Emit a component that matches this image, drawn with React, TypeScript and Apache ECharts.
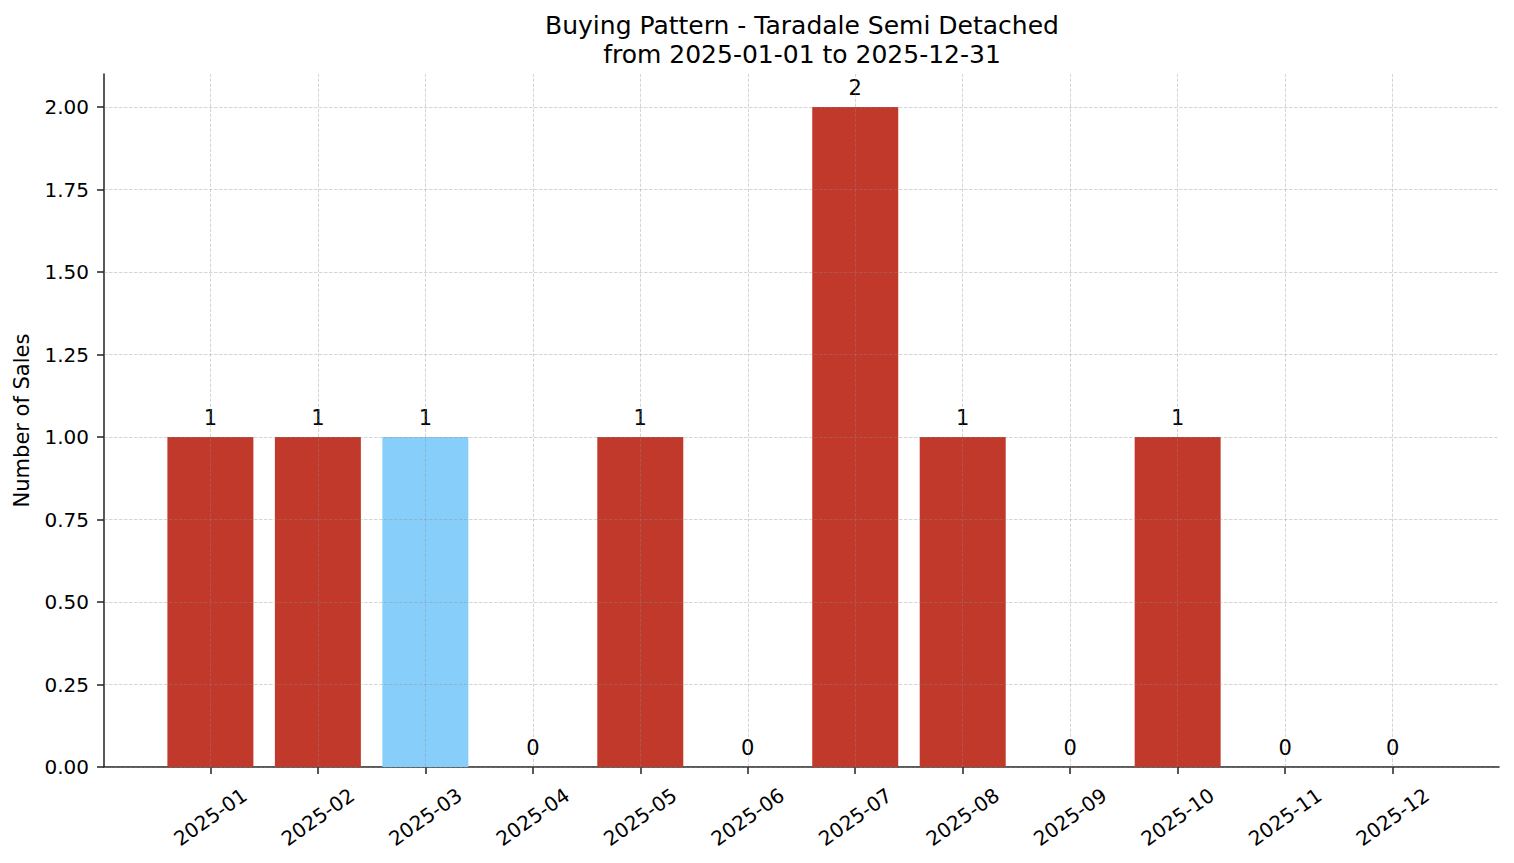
import React, { useEffect, useRef } from "react";
import * as echarts from "echarts";

const months = [
  "2025-01", "2025-02", "2025-03", "2025-04", "2025-05", "2025-06",
  "2025-07", "2025-08", "2025-09", "2025-10", "2025-11", "2025-12",
];
const sales = [1, 1, 1, 0, 1, 0, 2, 1, 0, 1, 0, 0];
const highlightMonth = "2025-03";
const yTicks = [0, 0.25, 0.5, 0.75, 1.0, 1.25, 1.5, 1.75, 2.0];

const FONT = "DejaVu Sans";
const RED = "#c0392b";
const BLUE = "#87cefa";

function App() {
  const chartRef = useRef<HTMLDivElement>(null);

  useEffect(() => {
    if (!chartRef.current) return;
    const chart = echarts.init(chartRef.current, undefined, { renderer: "svg" });
    const xIdx = months.map((_, i) => i);
    // matplotlib-ish dashed grid, drawn over the bars
    const gridStyle = { color: "rgba(140,140,140,0.45)", width: 0.8, type: [3.5, 1.5] as any };

    const options: echarts.EChartsOption = {
      animation: false,
      backgroundColor: "#ffffff",
      title: {
        text: "Buying Pattern - Taradale Semi Detached\nfrom 2025-01-01 to 2025-12-31",
        left: 797,
        top: 6,
        textAlign: "center",
        textStyle: {
          fontFamily: FONT,
          fontSize: 25,
          fontWeight: "normal",
          color: "#000",
          lineHeight: 29,
        },
      },
      grid: { left: 104, right: 15, top: 74, bottom: 96 },
      xAxis: {
        type: "value",
        min: -0.99,
        max: 11.99,
        splitLine: { show: false },
        axisLine: { show: true, onZero: false, lineStyle: { color: "#222", width: 1.5 } },
        axisTick: { show: true, length: 7, customValues: xIdx, lineStyle: { color: "#222", width: 1.5 } },
        axisLabel: {
          customValues: xIdx,
          formatter: (v: number) => months[Math.round(v)] ?? "",
          rotate: 35,
          align: "center",
          verticalAlign: "middle",
          margin: 50,
          fontFamily: FONT,
          fontSize: 20,
          color: "#000",
        },
      },
      yAxis: {
        type: "value",
        min: 0,
        max: 2.1,
        interval: 0.25,
        name: "Number of Sales",
        nameLocation: "middle",
        nameGap: 72,
        nameRotate: 90,
        nameTextStyle: { fontFamily: FONT, fontSize: 21, color: "#000" },
        splitLine: { show: false },
        axisLine: { show: true, onZero: false, lineStyle: { color: "#222", width: 1.5 } },
        axisTick: { show: true, length: 7, customValues: yTicks, lineStyle: { color: "#222", width: 1.5 } },
        axisLabel: {
          customValues: yTicks,
          formatter: (v: number) => v.toFixed(2),
          margin: 15,
          fontFamily: FONT,
          fontSize: 20,
          color: "#000",
        },
      },
      series: [
        {
          type: "bar",
          barWidth: 86,
          data: sales.map((v, i) => ({
            value: [i, v],
            itemStyle: { color: months[i] === highlightMonth ? BLUE : RED },
          })),
          label: {
            show: true,
            position: "top",
            distance: 9,
            formatter: (p: any) => String(p.value[1]),
            fontFamily: FONT,
            fontSize: 21,
            color: "#000",
          },
          markLine: {
            silent: true,
            symbol: ["none", "none"],
            label: { show: false },
            lineStyle: gridStyle,
            emphasis: { disabled: true },
            data: [
              ...xIdx.map((i) => ({ xAxis: i })),
              ...yTicks.map((v) => ({ yAxis: v })),
            ],
          },
        },
      ],
    };
    chart.setOption(options);
    return () => {
      chart.dispose();
    };
  }, []);

  return (
    <div
      ref={chartRef}
      style={{ position: "absolute", left: 0, top: 0, width: "1514px", height: "863px" }}
    />
  );
}

export default App;
